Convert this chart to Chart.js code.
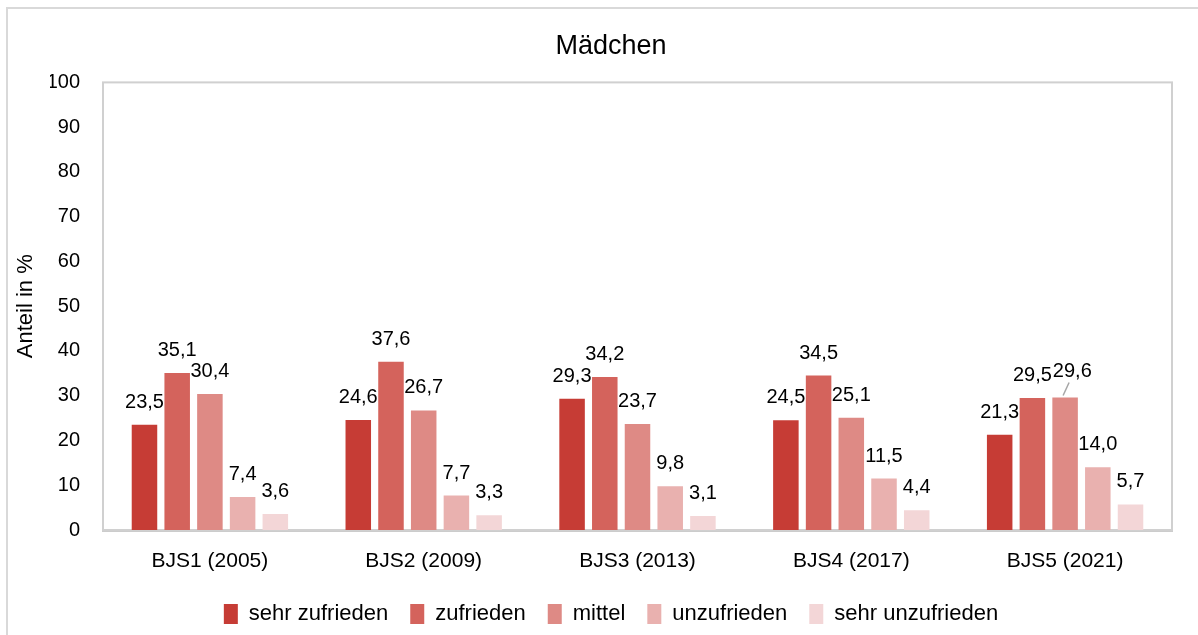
<!DOCTYPE html>
<html lang="de">
<head>
<meta charset="utf-8">
<title>Mädchen</title>
<script src="https://cdn.jsdelivr.net/npm/chart.js@4.4.1/dist/chart.umd.min.js"></script>
<style>
  html, body { margin: 0; padding: 0; background: #fff; overflow: hidden; }
  /* äußerer Diagrammrahmen */
  #rahmen { position: absolute; left: 6px; top: 7px; width: 1220px; height: 660px; border: 2px solid #d9d9d9; }
  #chart { position: absolute; left: 0; top: 0; }
</style>
</head>
<body>
<div id="rahmen"></div>
<canvas id="chart" width="1198" height="635"></canvas>
<script>
// === Daten
const kategorien = ["BJS1 (2005)", "BJS2 (2009)", "BJS3 (2013)", "BJS4 (2017)", "BJS5 (2021)"];
const sehrZufrieden = [23.5, 24.6, 29.3, 24.5, 21.3];
const zufrieden = [35.1, 37.6, 34.2, 34.5, 29.5];
const mittel = [30.4, 26.7, 23.7, 25.1, 29.6];
const unzufrieden = [7.4, 7.7, 9.8, 11.5, 14.0];
const sehrUnzufrieden = [3.6, 3.3, 3.1, 4.4, 5.7];
const yTicks = [0, 10, 20, 30, 40, 50, 60, 70, 80, 90, 100];

const schrift = '"Liberation Sans", Arial, sans-serif';

// === Rahmen um die Zeichenfläche
const plotRahmen = {
  id: "plotRahmen",
  beforeDatasetsDraw(chart) {
    const { ctx, chartArea: a } = chart;
    ctx.save();
    ctx.strokeStyle = "#d0d0d0";
    ctx.lineWidth = 2;
    ctx.strokeRect(a.left, a.top, a.right - a.left, a.bottom - a.top);
    ctx.restore();
  }
};

// === Werte über den Balken (mit Komma)
const wertLabels = {
  id: "wertLabels",
  afterDatasetsDraw(chart) {
    const ctx = chart.ctx;
    ctx.save();
    ctx.font = "20px " + schrift;
    ctx.fillStyle = "#000";
    ctx.textAlign = "center";
    ctx.textBaseline = "alphabetic";
    chart.data.labels.forEach((_, i) => {
      let vorher = null;
      chart.data.datasets.forEach((ds, d) => {
        const bar = chart.getDatasetMeta(d).data[i];
        const text = ds.data[i].toFixed(1).replace(".", ",");
        const w = ctx.measureText(text).width;
        let x = bar.x;
        let y = bar.y - 17;
        // überlappt das Label mit dem vorherigen? dann etwas versetzen + Führungslinie
        if (vorher && x - w / 2 < vorher.r - 1 && y > vorher.t && y - 15 < vorher.b) {
          x += vorher.r - (x - w / 2) + 1;
          y -= 4;
          ctx.strokeStyle = "#a6a6a6";
          ctx.lineWidth = 1.5;
          ctx.beginPath();
          ctx.moveTo(bar.x - 2, bar.y - 2);
          ctx.lineTo(bar.x + 4, y + 6);
          ctx.stroke();
        }
        ctx.fillText(text, x, y);
        vorher = { r: x + w / 2, t: y - 15, b: y };
      });
    });
    ctx.restore();
  }
};

new Chart(document.getElementById("chart"), {
  type: "bar",
  data: {
    labels: kategorien,
    datasets: [
      { label: "sehr zufrieden", data: sehrZufrieden, backgroundColor: "#c63c35" },
      { label: "zufrieden", data: zufrieden, backgroundColor: "#d4635c" },
      { label: "mittel", data: mittel, backgroundColor: "#de8a85" },
      { label: "unzufrieden", data: unzufrieden, backgroundColor: "#e9b1af" },
      { label: "sehr unzufrieden", data: sehrUnzufrieden, backgroundColor: "#f3d6d7" }
    ].map(ds => Object.assign(ds, { borderWidth: 0, barPercentage: 0.78, categoryPercentage: 0.765 }))
  },
  options: {
    responsive: false,
    animation: false,
    // links 50 + Achsenbreite 53 = Zeichenfläche ab x=103
    layout: { padding: { left: 50, right: 26, top: 0, bottom: 0 } },
    plugins: {
      title: {
        display: true,
        text: "Mädchen",
        color: "#000",
        font: { family: schrift, size: 27, weight: "normal" },
        padding: { top: 30, bottom: 20 }
      },
      legend: {
        position: "bottom",
        maxHeight: 54,
        labels: {
          color: "#000",
          boxWidth: 14,
          boxHeight: 20,
          padding: 22,
          font: { family: schrift, size: 22 }
        }
      },
      tooltip: { enabled: false }
    },
    scales: {
      x: {
        grid: { display: false, drawTicks: false },
        border: { display: true, color: "#cccccc", width: 3 },
        ticks: { color: "#000", font: { family: schrift, size: 21 }, padding: 19 },
        afterFit(scale) { scale.height = 51; }
      },
      y: {
        min: 0,
        max: 100,
        grid: { display: false, drawTicks: false },
        border: { display: false },
        afterBuildTicks(scale) { scale.ticks = yTicks.map(v => ({ value: v })); },
        ticks: { color: "#000", font: { family: schrift, size: 20 }, padding: 23 },
        title: {
          display: true,
          text: "Anteil in %",
          color: "#000",
          font: { family: schrift, size: 22 },
          padding: { top: -37, bottom: 0 }
        },
        afterFit(scale) { scale.width = 53; }
      }
    }
  },
  plugins: [plotRahmen, wertLabels]
});
</script>
</body>
</html>
